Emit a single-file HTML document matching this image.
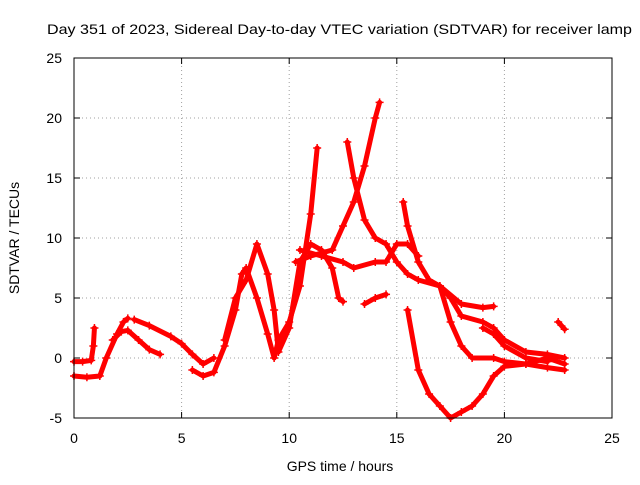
<!DOCTYPE html>
<html><head><meta charset="utf-8"><style>
body{margin:0;background:#fff;}
svg text{font-family:"Liberation Sans",sans-serif;font-size:14px;fill:#000;}
</style></head><body>
<svg id="chart" width="640" height="480" viewBox="0 0 640 480">
<rect width="640" height="480" fill="#fff"/>
<text x="47" y="34" textLength="585" lengthAdjust="spacingAndGlyphs">Day 351 of 2023, Sidereal Day-to-day VTEC variation (SDTVAR) for receiver lamp</text>
<g id="grid"></g>
<g id="series"></g>
<rect x="74" y="58" width="538" height="360" fill="none" stroke="#000" stroke-width="1"/>
<g id="ticks"></g>
<text x="340" y="471" text-anchor="middle">GPS time / hours</text>
<text transform="translate(19,238) rotate(-90)" text-anchor="middle">SDTVAR / TECUs</text>
</svg>
<script>
const xTicks=[0,5,10,15,20,25];
const yTicks=[-5,0,5,10,15,20,25];
const s1=[[0,-0.3],[0.4,-0.3],[0.8,-0.2],[0.9,1],[0.95,2.5]];
const s2=[[0,-1.5],[0.6,-1.6],[1.2,-1.5],[1.5,0],[2,2],[2.3,3],[2.5,3.3]];
const s3=[[1.8,1.5],[2.2,2.2],[2.5,2.3],[3,1.5],[3.5,0.7],[4,0.3]];
const s4=[[2.8,3.2],[3.5,2.7],[4.5,1.8],[5,1.2],[5.5,0.3],[6,-0.5],[6.5,0]];
const s5=[[5.5,-1],[6,-1.5],[6.5,-1.2],[7,1],[7.5,4],[7.8,7],[8,7.5],[8.5,5],[9,2],[9.3,0],[9.5,1.5],[10,3],[10.5,6],[11,12],[11.3,17.5]];
const s6=[[7,1.5],[7.5,5],[8,6.5],[8.5,9.5],[9,7],[9.3,4],[9.5,0.5],[10,2.5],[10.5,8],[11,9.5],[11.5,9],[12,7.5],[12.3,5],[12.5,4.7]];
const s7=[[10.3,8],[11,8.5],[12,9],[12.5,11],[13,13],[13.5,16],[14,20],[14.2,21.3]];
const s8=[[12.7,18],[13,15],[13.5,11.5],[14,10],[14.5,9.5],[15,8],[15.5,7],[16,6.5],[17,6],[18,4.5],[19,4.2],[19.5,4.3]];
const s9=[[10.5,9],[11.5,8.5],[12.5,8],[13,7.5],[14,8],[14.5,8],[15,9.5],[15.5,9.5],[16,8.5]];
const s10=[[13.5,4.5],[14,5],[14.5,5.3]];
const s11=[[15.3,13],[15.5,11],[16,8],[16.5,6.5],[17,6],[17.5,5],[18,3.5],[19,3],[19.5,2.5],[20,1.5],[21,0.5],[22,0.3],[22.8,0]];
const s12=[[15.5,4],[16,-1],[16.5,-3],[17,-4],[17.5,-5],[18,-4.5],[18.5,-4],[19,-3],[19.5,-1.5],[20,-0.7],[21,-0.5],[22,0],[22.8,-0.5]];
const s13=[[17,6],[17.5,3],[18,1],[18.5,0],[19.5,0],[20,-0.3],[21,-0.5],[22,-0.8],[22.8,-1]];
const s14=[[19,2.5],[19.5,2],[20,1],[21,0],[22,-0.3]];
const s15=[[22.5,3],[22.8,2.4]];
const allSeries=[s1,s2,s3,s4,s5,s6,s7,s8,s9,s10,s11,s12,s13,s14,s15];
const NS="http://www.w3.org/2000/svg";
const X=v=>74+(v-0)*538/25;
const Y=v=>418-(v+5)*360/30;
const grid=document.getElementById('grid'),ticks=document.getElementById('ticks'),ser=document.getElementById('series');
function mk(t,a,p){const e=document.createElementNS(NS,t);for(const k in a)e.setAttribute(k,a[k]);p.appendChild(e);return e;}
xTicks.forEach(v=>{
 if(v>0&&v<25){const g=mk('line',{x1:X(v),x2:X(v),y1:58,y2:418,stroke:'#a0a0a0','stroke-dasharray':'1,3'},grid);
 
 }
 mk('line',{x1:X(v),x2:X(v),y1:418,y2:412,stroke:'#000'},ticks);
 mk('line',{x1:X(v),x2:X(v),y1:58,y2:64,stroke:'#000'},ticks);
 const t=mk('text',{x:X(v),y:443,'text-anchor':'middle'},ticks);t.textContent=v;
 
 
});
yTicks.forEach(v=>{
 if(v>-5&&v<25){const g=mk('line',{x1:74,x2:612,y1:Y(v),y2:Y(v),stroke:'#a0a0a0','stroke-dasharray':'1,3'},grid);
 
 }
 mk('line',{x1:74,x2:80,y1:Y(v),y2:Y(v),stroke:'#000'},ticks);
 mk('line',{x1:612,x2:606,y1:Y(v),y2:Y(v),stroke:'#000'},ticks);
 const t=mk('text',{x:62,y:Y(v)+5,'text-anchor':'end'},ticks);t.textContent=v;
 
 
});
allSeries.forEach((s,i)=>{
 const pts=s.map(p=>X(p[0])+','+Y(p[1])).join(' ');
 const pl=mk('polyline',{points:pts,fill:'none',stroke:'#ff0000','stroke-width':5,'stroke-linejoin':'round','stroke-linecap':'round'},ser);
 
 
 s.forEach(p=>{
  const m=mk('path',{d:`M${X(p[0])-4},${Y(p[1])}h8M${X(p[0])},${Y(p[1])-4}v8`,stroke:'#ff0000','stroke-width':1.5},ser);
  
  
 });
});
</script>
</body></html>
